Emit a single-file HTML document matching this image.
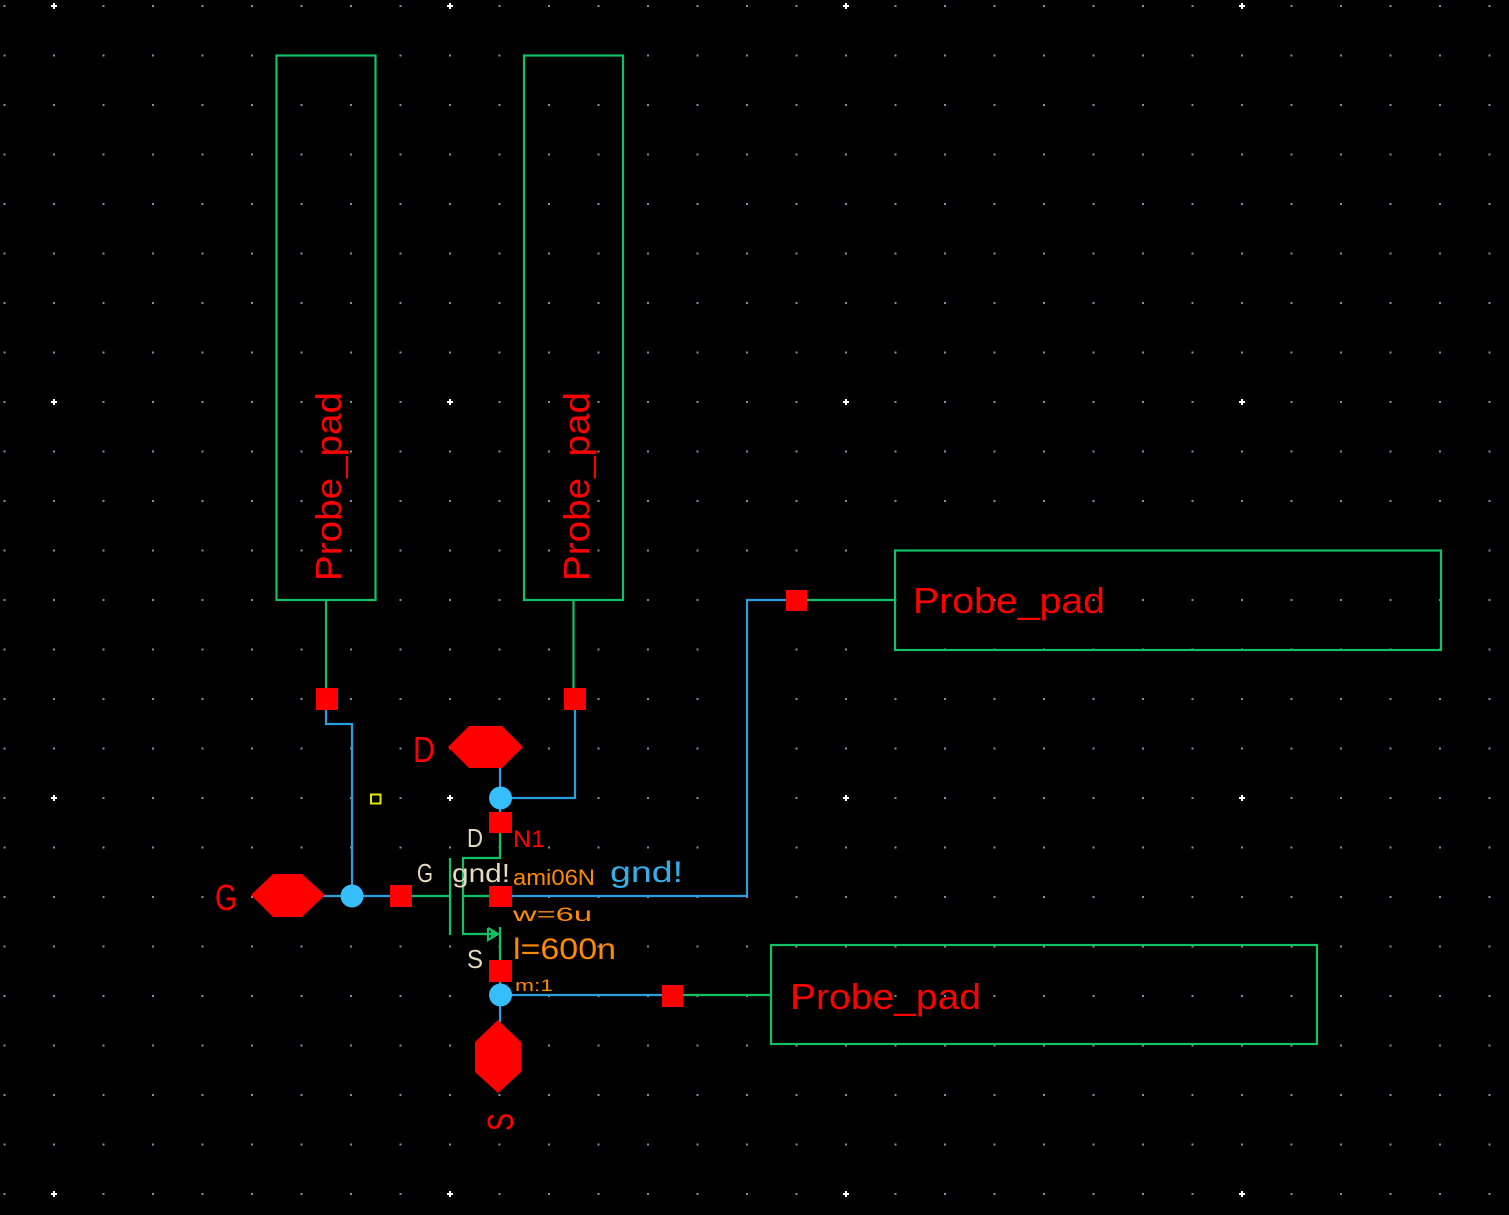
<!DOCTYPE html>
<html>
<head>
<meta charset="utf-8">
<style>
  html, body { margin:0; padding:0; background:#000; }
  body { width:1509px; height:1215px; overflow:hidden; }
  svg { display:block; }
  text { font-family: "Liberation Sans", "DejaVu Sans", sans-serif; }
</style>
</head>
<body>
<svg width="1509" height="1215" viewBox="0 0 1509 1215" xmlns="http://www.w3.org/2000/svg">
  <defs>
    <pattern id="grid" patternUnits="userSpaceOnUse" x="3.5" y="5" width="49.5" height="49.5">
      <rect x="0" y="0" width="2" height="2" fill="#8a8aa6"/>
    </pattern>
  </defs>
  <rect x="0" y="0" width="1509" height="1215" fill="#000"/>
  <rect x="0" y="0" width="1509" height="1215" fill="url(#grid)"/>

  <!-- major grid markers -->
  <g fill="#ffffff">
    <g transform="translate(54,6)"><rect x="-3" y="-1" width="6" height="2"/><rect x="-1" y="-3" width="2" height="6"/></g>
    <g transform="translate(450,6)"><rect x="-3" y="-1" width="6" height="2"/><rect x="-1" y="-3" width="2" height="6"/></g>
    <g transform="translate(846,6)"><rect x="-3" y="-1" width="6" height="2"/><rect x="-1" y="-3" width="2" height="6"/></g>
    <g transform="translate(1242,6)"><rect x="-3" y="-1" width="6" height="2"/><rect x="-1" y="-3" width="2" height="6"/></g>
    <g transform="translate(54,402)"><rect x="-3" y="-1" width="6" height="2"/><rect x="-1" y="-3" width="2" height="6"/></g>
    <g transform="translate(450,402)"><rect x="-3" y="-1" width="6" height="2"/><rect x="-1" y="-3" width="2" height="6"/></g>
    <g transform="translate(846,402)"><rect x="-3" y="-1" width="6" height="2"/><rect x="-1" y="-3" width="2" height="6"/></g>
    <g transform="translate(1242,402)"><rect x="-3" y="-1" width="6" height="2"/><rect x="-1" y="-3" width="2" height="6"/></g>
    <g transform="translate(54,798)"><rect x="-3" y="-1" width="6" height="2"/><rect x="-1" y="-3" width="2" height="6"/></g>
    <g transform="translate(450,798)"><rect x="-3" y="-1" width="6" height="2"/><rect x="-1" y="-3" width="2" height="6"/></g>
    <g transform="translate(846,798)"><rect x="-3" y="-1" width="6" height="2"/><rect x="-1" y="-3" width="2" height="6"/></g>
    <g transform="translate(1242,798)"><rect x="-3" y="-1" width="6" height="2"/><rect x="-1" y="-3" width="2" height="6"/></g>
    <g transform="translate(54,1194)"><rect x="-3" y="-1" width="6" height="2"/><rect x="-1" y="-3" width="2" height="6"/></g>
    <g transform="translate(450,1194)"><rect x="-3" y="-1" width="6" height="2"/><rect x="-1" y="-3" width="2" height="6"/></g>
    <g transform="translate(846,1194)"><rect x="-3" y="-1" width="6" height="2"/><rect x="-1" y="-3" width="2" height="6"/></g>
    <g transform="translate(1242,1194)"><rect x="-3" y="-1" width="6" height="2"/><rect x="-1" y="-3" width="2" height="6"/></g>
  </g>

  <!-- Probe pads (green outlines) -->
  <g fill="none" stroke="#12c163" stroke-width="2.2">
    <rect x="276.5" y="55.5" width="99" height="544.5"/>
    <rect x="524" y="55.5" width="99" height="544.5"/>
    <rect x="895" y="550.5" width="546" height="99.5"/>
    <rect x="771" y="945" width="546" height="99"/>
    <!-- pad leads -->
    <line x1="326" y1="600" x2="326" y2="690"/>
    <line x1="573.5" y1="600" x2="573.5" y2="690"/>
    <line x1="805" y1="600" x2="895" y2="600"/>
    <line x1="682" y1="995" x2="771" y2="995"/>
  </g>

  <!-- Probe pad labels -->
  <g fill="#ff0000" font-size="36">
    <text transform="translate(341,581) rotate(-90)" x="0" y="0" textLength="189" lengthAdjust="spacingAndGlyphs">Probe_pad</text>
    <text transform="translate(589,581) rotate(-90)" x="0" y="0" textLength="189" lengthAdjust="spacingAndGlyphs">Probe_pad</text>
    <text x="913" y="613" textLength="192" lengthAdjust="spacingAndGlyphs">Probe_pad</text>
    <text x="790" y="1009" textLength="191" lengthAdjust="spacingAndGlyphs">Probe_pad</text>
  </g>

  <!-- Blue wires -->
  <g fill="none" stroke="#2a9fdc" stroke-width="2.2">
    <polyline points="326,705 326,724 352,724 352,896"/>
    <line x1="322" y1="896" x2="392" y2="896"/>
    <polyline points="575,705 575,798 500,798"/>
    <line x1="500" y1="766" x2="500" y2="814"/>
    <polyline points="510,896 747,896 747,600 790,600"/>
    <line x1="500" y1="980" x2="500" y2="1022"/>
    <line x1="500" y1="995" x2="664" y2="995"/>
  </g>

  <!-- Transistor symbol (green) -->
  <g fill="none" stroke="#12c163" stroke-width="2.2">
    <line x1="410" y1="896" x2="450" y2="896"/>
    <line x1="450" y1="858" x2="450" y2="935"/>
    <polyline points="500,832 500,858 463,858 463,934 497,934"/>
    <line x1="463" y1="896" x2="490" y2="896"/>
    <line x1="500" y1="927" x2="500" y2="962"/>
    <polyline points="488,928 498,934 488,940 488,928"/>
    <line x1="492" y1="930" x2="492" y2="938"/>
  </g>

  <!-- Red pins (squares) -->
  <g fill="#ff0000">
    <rect x="316" y="688" width="22" height="22"/>
    <rect x="564" y="688" width="22" height="22"/>
    <rect x="786" y="590" width="21" height="21"/>
    <rect x="489" y="812" width="23" height="21"/>
    <rect x="390" y="885" width="22" height="22"/>
    <rect x="489" y="886" width="23" height="21"/>
    <rect x="489" y="960" width="23" height="22"/>
    <rect x="662" y="985" width="21" height="22"/>
  </g>

  <!-- Hexagon I/O pins -->
  <g fill="#ff0000">
    <polygon points="448,747 469,726 502,726 523,747 502,768 469,768"/>
    <polygon points="251,895 273,874 302,874 325,895 302,917 273,917"/>
    <polygon points="498,1020 521,1042 521,1072 498,1093 475,1072 475,1042"/>
  </g>

  <!-- Blue junction dots -->
  <g fill="#36bdfc">
    <circle cx="352" cy="896" r="11.5"/>
    <circle cx="500.5" cy="798" r="11.5"/>
    <circle cx="500.5" cy="995" r="11.5"/>
  </g>

  <!-- Yellow small square -->
  <rect x="371" y="794.5" width="9.5" height="9" fill="none" stroke="#e6e600" stroke-width="2"/>

  <!-- Pin labels (red) -->
  <g fill="#ff0000" font-size="36">
    <text x="413" y="762" textLength="22" lengthAdjust="spacingAndGlyphs">D</text>
    <text x="215" y="910" textLength="22" lengthAdjust="spacingAndGlyphs">G</text>
    <text transform="translate(513,1131) rotate(-90)" x="0" y="0" textLength="18" lengthAdjust="spacingAndGlyphs">S</text>
  </g>
  <text x="513" y="847" fill="#ff0000" font-size="24" textLength="32" lengthAdjust="spacingAndGlyphs">N1</text>

  <!-- Terminal labels (beige) -->
  <g fill="#e6d9bd" font-size="26">
    <text x="467" y="847" textLength="16" lengthAdjust="spacingAndGlyphs">D</text>
    <text x="417" y="882" textLength="16" lengthAdjust="spacingAndGlyphs">G</text>
    <text x="452" y="882" textLength="58" lengthAdjust="spacingAndGlyphs">gnd!</text>
    <text x="467" y="968" textLength="16" lengthAdjust="spacingAndGlyphs">S</text>
  </g>

  <!-- Instance properties (orange) -->
  <g fill="#ff8a00">
    <text x="513" y="885" font-size="22" textLength="82" lengthAdjust="spacingAndGlyphs">ami06N</text>
    <text x="513" y="921" font-size="19" textLength="79" lengthAdjust="spacingAndGlyphs">w=6u</text>
    <text x="513" y="959" font-size="30" textLength="103" lengthAdjust="spacingAndGlyphs">l=600n</text>
    <text x="515" y="991" font-size="17" textLength="38" lengthAdjust="spacingAndGlyphs">m:1</text>
  </g>

  <!-- gnd! net label (blue) -->
  <text x="610" y="882" fill="#36aee6" font-size="30" textLength="73" lengthAdjust="spacingAndGlyphs">gnd!</text>
</svg>
</body>
</html>
